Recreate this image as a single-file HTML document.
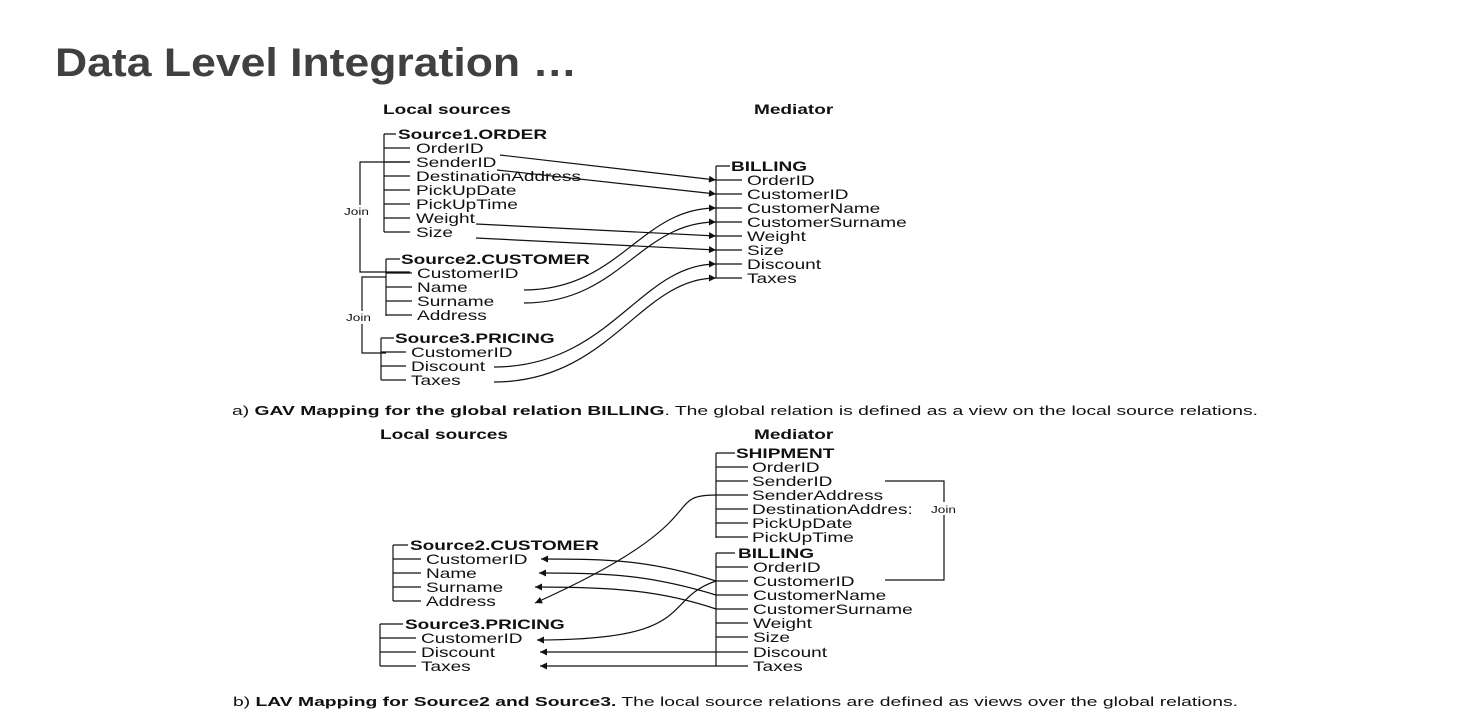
<!DOCTYPE html>
<html><head><meta charset="utf-8"><style>
html,body{margin:0;padding:0;background:#fff;}
svg{display:block;}
text{font-family:"Liberation Sans",Arial,sans-serif;fill:#111;}
.i,.h,.j{transform-box:fill-box;transform-origin:0 50%;transform:scaleX(1.36);}
.i{font-size:14px;}
.h{font-size:14px;font-weight:bold;}
.j{font-size:10px;}
</style></head><body>
<svg width="1460" height="727" viewBox="0 0 1460 727" xmlns="http://www.w3.org/2000/svg">
<defs><marker id="a" viewBox="0 0 10 10" refX="10" refY="5" markerWidth="9" markerHeight="7" orient="auto" markerUnits="userSpaceOnUse"><path d="M0,0L10,5L0,10z" fill="#111"/></marker></defs>
<text x="55" y="76" style="font-size:40px;font-weight:bold;fill:#404040" textLength="522" lengthAdjust="spacingAndGlyphs">Data Level Integration …</text>

<g stroke="#111" stroke-width="1.2" fill="none">
<path d="M384,134V232M384,134H396M384,148H410M384,162H410M384,176H410M384,190H410M384,204H410M384,218H410M384,232H410"/>
<path d="M410,162H360V272H410"/>
<path d="M386,259V316M386,259H400M386,273H412M386,287H412M386,301H412M386,315H412"/>
<path d="M386,277H362V353H386"/>
<path d="M381,338V380M381,338H394M381,352H406M381,366H406M381,380H406"/>
<path d="M716,166V278M716,166H730M716,180H742M716,194H742M716,208H742M716,222H742M716,236H742M716,250H742M716,264H742M716,278H742"/>
<path marker-end="url(#a)" d="M500,155L716,180"/>
<path marker-end="url(#a)" d="M497,170L716,194"/>
<path marker-end="url(#a)" d="M476,224L716,236"/>
<path marker-end="url(#a)" d="M476,238L716,250"/>
<path marker-end="url(#a)" d="M524,290C620,290 640,208 716,208"/>
<path marker-end="url(#a)" d="M524,303C620,303 640,222 716,222"/>
<path marker-end="url(#a)" d="M494,367C610,367 640,264 716,264"/>
<path marker-end="url(#a)" d="M494,382C610,382 640,278 716,278"/>
<path d="M716,453V538M716,453H735M716,467H748M716,481H748M716,495H748M716,509H748M716,523H748M716,537H748"/>
<path d="M885,481H944V580H885"/>
<path d="M716,553V666M716,553H735M716,567H748M716,581H748M716,595H748M716,609H748M716,623H748M716,637H748M716,652H748M716,666H748"/>
<path d="M393,545V601M393,545H408M393,559H421M393,573H421M393,587H421M393,601H421"/>
<path d="M380,624V666M380,624H403M380,638H416M380,652H416M380,666H416"/>
<path marker-end="url(#a)" d="M716,581C650,560 610,559 541,559"/>
<path marker-end="url(#a)" d="M716,595C650,575 610,573 539,573"/>
<path marker-end="url(#a)" d="M716,609C660,590 610,587 535,587"/>
<path marker-end="url(#a)" d="M716,495C660,495 720,520 535,603"/>
<path marker-end="url(#a)" d="M716,581C660,600 700,640 537,640"/>
<path marker-end="url(#a)" d="M716,652H540"/>
<path marker-end="url(#a)" d="M716,666H540"/>
</g>
<rect x="343" y="205" width="30" height="13" fill="#fff"/>
<rect x="345" y="311" width="30" height="13" fill="#fff"/>
<rect x="930" y="502" width="30" height="13" fill="#fff"/>

<text class="h" x="383" y="114">Local sources</text>
<text class="h" x="754" y="114">Mediator</text>
<text class="h" x="398" y="139">Source1.ORDER</text>
<text class="i" x="416" y="153">OrderID</text>
<text class="i" x="416" y="167">SenderID</text>
<text class="i" x="416" y="181">DestinationAddress</text>
<text class="i" x="416" y="195">PickUpDate</text>
<text class="i" x="416" y="209">PickUpTime</text>
<text class="i" x="416" y="223">Weight</text>
<text class="i" x="416" y="237">Size</text>
<text class="j" x="344" y="215">Join</text>
<text class="h" x="401" y="264">Source2.CUSTOMER</text>
<text class="i" x="417" y="278">CustomerID</text>
<text class="i" x="417" y="292">Name</text>
<text class="i" x="417" y="306">Surname</text>
<text class="i" x="417" y="320">Address</text>
<text class="j" x="346" y="321">Join</text>
<text class="h" x="395" y="343">Source3.PRICING</text>
<text class="i" x="411" y="357">CustomerID</text>
<text class="i" x="411" y="371">Discount</text>
<text class="i" x="411" y="385">Taxes</text>
<text class="h" x="731" y="171">BILLING</text>
<text class="i" x="747" y="185">OrderID</text>
<text class="i" x="747" y="199">CustomerID</text>
<text class="i" x="747" y="213">CustomerName</text>
<text class="i" x="747" y="227">CustomerSurname</text>
<text class="i" x="747" y="241">Weight</text>
<text class="i" x="747" y="255">Size</text>
<text class="i" x="747" y="269">Discount</text>
<text class="i" x="747" y="283">Taxes</text>
<text x="232" y="415" style="font-size:13px" textLength="1026" lengthAdjust="spacingAndGlyphs">a) <tspan font-weight="bold">GAV Mapping for the global relation BILLING</tspan>. The global relation is defined as a view on the local source relations.</text>

<text class="h" x="380" y="439">Local sources</text>
<text class="h" x="754" y="439">Mediator</text>
<text class="h" x="736" y="458">SHIPMENT</text>
<text class="i" x="752" y="472">OrderID</text>
<text class="i" x="752" y="486">SenderID</text>
<text class="i" x="752" y="500">SenderAddress</text>
<text class="i" x="752" y="514">DestinationAddres:</text>
<text class="i" x="752" y="528">PickUpDate</text>
<text class="i" x="752" y="542">PickUpTime</text>
<text class="j" x="931" y="513">Join</text>
<text class="h" x="738" y="558">BILLING</text>
<text class="i" x="753" y="572">OrderID</text>
<text class="i" x="753" y="586">CustomerID</text>
<text class="i" x="753" y="600">CustomerName</text>
<text class="i" x="753" y="614">CustomerSurname</text>
<text class="i" x="753" y="628">Weight</text>
<text class="i" x="753" y="642">Size</text>
<text class="i" x="753" y="657">Discount</text>
<text class="i" x="753" y="671">Taxes</text>
<text class="h" x="410" y="550">Source2.CUSTOMER</text>
<text class="i" x="426" y="564">CustomerID</text>
<text class="i" x="426" y="578">Name</text>
<text class="i" x="426" y="592">Surname</text>
<text class="i" x="426" y="606">Address</text>
<text class="h" x="405" y="629">Source3.PRICING</text>
<text class="i" x="421" y="643">CustomerID</text>
<text class="i" x="421" y="657">Discount</text>
<text class="i" x="421" y="671">Taxes</text>
<text x="233" y="706" style="font-size:13px" textLength="1005" lengthAdjust="spacingAndGlyphs">b) <tspan font-weight="bold">LAV Mapping for Source2 and Source3.</tspan> The local source relations are defined as views over the global relations.</text>
</svg>
</body></html>
